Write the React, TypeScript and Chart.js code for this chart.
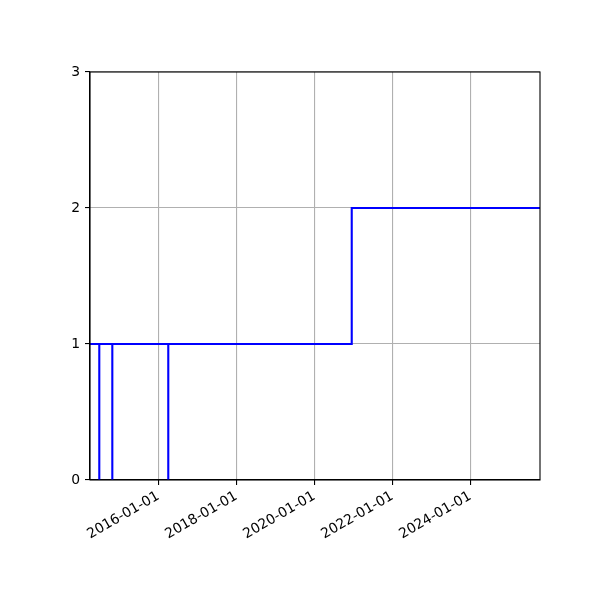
import React, { useEffect, useRef } from "react";
import { Chart, registerables } from "chart.js";

Chart.register(...registerables);

// Step series: dates and values (value holds until next date)
const stepDates = [
  "2014-04-01",
  "2014-06-27",
  "2014-06-27",
  "2014-10-27",
  "2014-10-27",
  "2016-04-03",
  "2016-04-03",
  "2020-12-16",
  "2025-10-14",
];
const stepValues = [1, 0, 1, 0, 1, 0, 1, 2, 2];

const xRange = ["2014-04-01", "2025-10-14"];
const xTickDates = ["2016-01-01", "2018-01-01", "2020-01-01", "2022-01-01", "2024-01-01"];
const yTicks = [0, 1, 2, 3];

const toMs = (s: string) => {
  const [y, m, d] = s.split("-").map(Number);
  return Date.UTC(y, m - 1, d);
};
const fmt = (ms: number) => {
  const d = new Date(ms);
  const p = (n: number) => String(n).padStart(2, "0");
  return `${d.getUTCFullYear()}-${p(d.getUTCMonth() + 1)}-${p(d.getUTCDate())}`;
};

const framePlugin = {
  id: "frame",
  afterDatasetsDraw(chart: any) {
    const { ctx, chartArea } = chart;
    ctx.save();
    ctx.strokeStyle = "#000";
    ctx.lineWidth = 1.1;
    ctx.strokeRect(chartArea.left, chartArea.top, chartArea.right - chartArea.left, chartArea.bottom - chartArea.top);
    ctx.restore();
  },
};

export default function App() {
  const ref = useRef<HTMLCanvasElement>(null);
  useEffect(() => {
    if (!ref.current) return;
    const font = { family: "'DejaVu Sans', sans-serif", size: 13.9 };
    const chart = new Chart(ref.current, {
      type: "line",
      data: {
        datasets: [
          {
            data: stepDates.map((d, i) => ({ x: toMs(d), y: stepValues[i] })),
            borderColor: "#0000ff",
            borderWidth: 2.1,
            pointRadius: 0,
            stepped: "before",
            fill: false,
          },
        ],
      },
      options: {
        animation: false,
        responsive: false,
        devicePixelRatio: 1,
        layout: { padding: { left: 0, top: 72, right: 60, bottom: 0 } },
        plugins: { legend: { display: false }, tooltip: { enabled: false } },
        scales: {
          x: {
            type: "linear",
            min: toMs(xRange[0]),
            max: toMs(xRange[1]),
            afterBuildTicks: (scale: any) => {
              scale.ticks = xTickDates.map((d) => ({ value: toMs(d) }));
            },
            afterFit: (scale: any) => {
              scale.height = 120;
            },
            ticks: {
              autoSkip: false,
              minRotation: 30,
              maxRotation: 30,
              padding: 3,
              color: "#000",
              font,
              callback: (v: any) => fmt(Number(v)),
            },
            grid: {
              color: "#b0b0b0",
              lineWidth: 1.1,
              tickColor: "#000",
              tickLength: 5,
              tickWidth: 1.1,
            },
            border: { color: "#000", width: 1.1 },
          },
          y: {
            type: "linear",
            min: yTicks[0],
            max: yTicks[yTicks.length - 1],
            afterBuildTicks: (scale: any) => {
              scale.ticks = yTicks.map((v) => ({ value: v }));
            },
            afterFit: (scale: any) => {
              scale.width = 90;
            },
            ticks: {
              padding: 5,
              color: "#000",
              font,
              callback: (v: any) => String(v),
            },
            grid: {
              color: "#b0b0b0",
              lineWidth: 1.1,
              tickColor: "#000",
              tickLength: 5,
              tickWidth: 1.1,
            },
            border: { color: "#000", width: 1.1 },
          },
        },
      },
      plugins: [framePlugin],
    });
    return () => chart.destroy();
  }, []);
  return (
    <div style={{ position: "fixed", left: 0, top: 0, width: 600, height: 600, background: "#fff" }}>
      <canvas ref={ref} width={600} height={600} />
    </div>
  );
}
